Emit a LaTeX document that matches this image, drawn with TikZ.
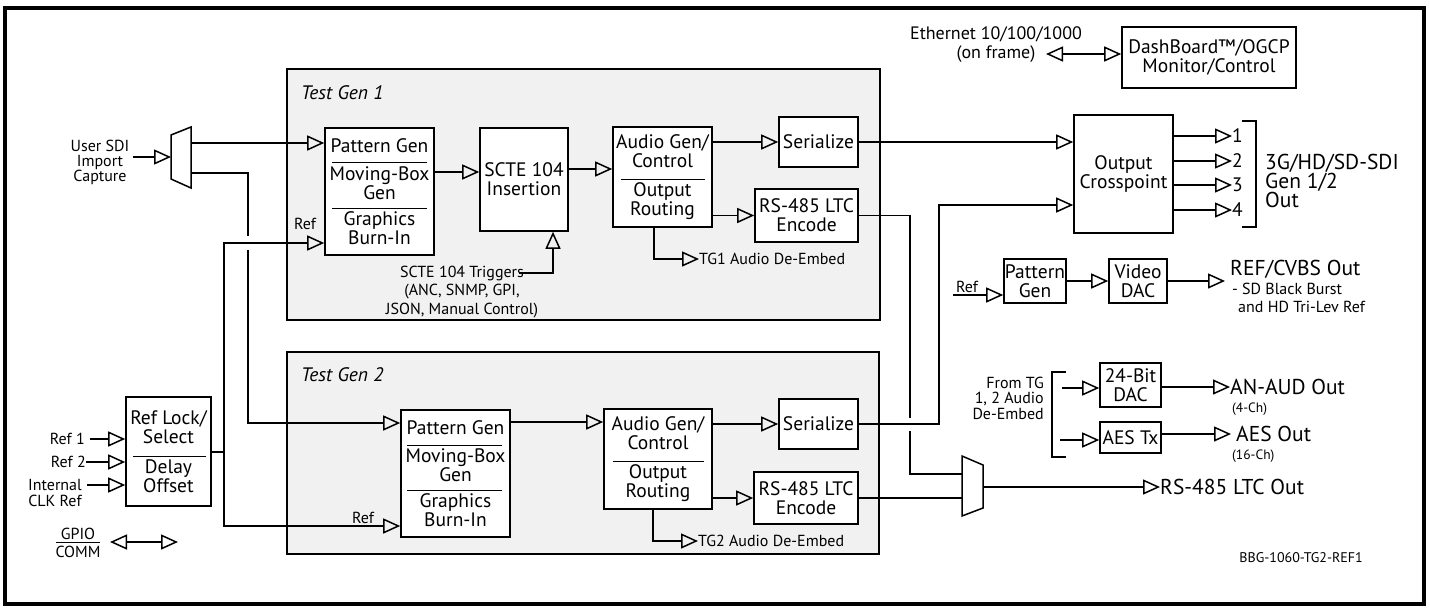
\documentclass[tikz,border=0pt]{standalone}
\usepackage{fontspec}
\setmainfont{PT Sans}
\usetikzlibrary{arrows.meta}
\definecolor{tggray}{RGB}{241,241,241}
\newcommand\fnm{\fontsize{19.5}{19}\selectfont}
\newcommand\fsm{\fontsize{16}{15.5}\selectfont}
\newcommand\fbg{\fontsize{21.5}{18}\selectfont}
\newcommand\ftn{\fontsize{13.5}{13}\selectfont}
\tikzset{
  blk/.style={draw, line width=1.6pt, fill=white, align=center, inner sep=0pt, font=\fnm},
  lbl/.style={align=center, inner sep=0pt, font=\fsm},
  wire/.style={line width=1.5pt},
  oarrow/.style={wire, -{Triangle[open, length=17pt, width=15pt]}},
  darrow/.style={wire, {Triangle[open, length=17pt, width=15pt]}-{Triangle[open, length=17pt, width=15pt]}},
}
\begin{document}
\begin{tikzpicture}[x=1pt, y=-1pt]
	\useasboundingbox (0,0) rectangle (1430,608);
	\draw [line width=3.5pt] (5,8) rectangle (1424,604);
	% test generator panels
	\draw [line width=1.6pt, fill=tggray] (287,69) rectangle (880,320);
	\draw [line width=1.6pt, fill=tggray] (287,352) rectangle (879,554);
	\node [anchor=west, inner sep=0pt, font=\fnm\itshape] at (301,93) {Test Gen 1};
	\node [anchor=west, inner sep=0pt, font=\fnm\itshape] at (301,375) {Test Gen 2};
	% blocks
	\node [blk, minimum width=109pt, minimum height=127pt] (pg1) at (379.5,191.5) {Pattern Gen\\[9pt]Moving-Box\\Gen\\[7pt]Graphics\\Burn-In};
	\node [blk, minimum width=88pt, minimum height=103pt] (scte) at (524,179.5) {SCTE 104\\Insertion};
	\node [blk, minimum width=99pt, minimum height=100pt] (aud1) at (662.5,177) {Audio Gen/\\Control\\[10pt]Output\\Routing};
	\node [blk, minimum width=79pt, minimum height=50pt] (ser1) at (818.5,142) {Serialize};
	\node [blk, minimum width=103pt, minimum height=53pt] (ltc1) at (806.5,215.5) {RS-485 LTC\\Encode};
	\node [blk, minimum width=109pt, minimum height=127pt] (pg2) at (455.5,473.5) {Pattern Gen\\[9pt]Moving-Box\\Gen\\[7pt]Graphics\\Burn-In};
	\node [blk, minimum width=108pt, minimum height=100pt] (aud2) at (658,459) {Audio Gen/\\Control\\[10pt]Output\\Routing};
	\node [blk, minimum width=79pt, minimum height=50pt] (ser2) at (818.5,424) {Serialize};
	\node [blk, minimum width=104pt, minimum height=52pt] (ltc2) at (806,498) {RS-485 LTC\\Encode};
	\node [blk, minimum width=85pt, minimum height=109pt] (refl) at (168.5,451.5) {Ref Lock/\\Select\\[11pt]Delay\\Offset};
	\node [blk, minimum width=99pt, minimum height=118pt] (xpt) at (1123.5,174) {Output\\Crosspoint};
	\node [blk, minimum width=174pt, minimum height=61pt] (dash) at (1209,57.5) {DashBoard™/OGCP\\Monitor/Control};
	\node [blk, minimum width=62pt, minimum height=44pt] (rpg) at (1035,281) {Pattern\\Gen};
	\node [blk, minimum width=58pt, minimum height=44pt] (vdac) at (1138,281) {Video\\DAC};
	\node [blk, minimum width=61pt, minimum height=44pt] (dac24) at (1130.5,385) {24-Bit\\DAC};
	\node [blk, minimum width=61pt, minimum height=31pt] (aes) at (1130.5,437.5) {AES Tx};
	% dividers
	\draw [line width=1pt] (332,162) -- (427,162);
	\draw [line width=1pt] (332,208) -- (427,208);
	\draw [line width=1pt] (407,445) -- (502,445);
	\draw [line width=1pt] (407,490) -- (502,490);
	\draw [line width=1pt] (621,179) -- (705,179);
	\draw [line width=1pt] (613,461) -- (704,461);
	\draw [line width=1pt] (133,456) -- (206,456);
	% muxes
	\draw [wire, fill=white] (171,135) -- (191,127) -- (191,188) -- (171,179) -- cycle;
	\draw [wire, fill=white] (962,456) -- (983,465) -- (983,508) -- (962,516) -- cycle;
	\coordinate (m1in) at (171,157);
	\coordinate (m1a) at (191,143);
	\coordinate (m1b) at (191,173);
	\coordinate (m2a) at (962,474);
	\coordinate (m2b) at (962,498);
	\coordinate (m2out) at (983,487);
	% left side inputs
	\node [lbl, font=\fontsize{16}{15}\selectfont] (sdi) at (100,162) {User SDI\\Import\\Capture};
	\draw [oarrow] ([xshift=3pt]sdi.east |- m1in) -- (m1in);
	\node [lbl, anchor=east] (ref1) at (85,439) {Ref 1};
	\node [lbl, anchor=east] (ref2) at (86,462) {Ref 2};
	\node [lbl] (clk) at (55,493) {Internal\\CLK Ref};
	\coordinate (clkarr) at (87,485);
	\draw [oarrow] ([xshift=5pt]ref1.east) -- (refl.west |- ref1);
	\draw [oarrow] (ref2.east) -- (refl.west |- ref2);
	\draw [oarrow] (clkarr) -- (refl.west |- clkarr);
	\node [lbl] (gpio) at (78,543) {GPIO\\[2pt]COMM};
	\draw [line width=0.9pt] (56,542) -- (100,542);
	\coordinate (gpioend) at (178,542);
	\draw [darrow] (110,542) -- (gpioend);
	% video paths
	\draw [oarrow] (m1a) -- (pg1.west |- m1a);
	\coordinate (hop1a) at (248,236);
	\coordinate (hop1b) at (248,250);
	\draw [wire] (m1b) -| (hop1a);
	\draw [oarrow] (hop1b) |- (pg2.west |- 0,423);
	\coordinate (rj) at (224,452);
	\draw [wire] (refl.east |- rj) -- (rj);
	\draw [oarrow] (rj) |- (pg1.west |- 0,243);
	\draw [oarrow] (rj) |- (pg2.west |- 0,526);
	\node [lbl] at (305,224) {Ref};
	\node [lbl] at (363,518) {Ref};
	\draw [oarrow] (pg1.east |- 0,172) -- (scte.west |- 0,172);
	\draw [oarrow] (scte.east |- 0,169) -- (aud1.west |- 0,169);
	\draw [oarrow] (aud1.east |- ser1) -- (ser1);
	\draw [oarrow] (aud1.east |- ltc1) -- (ltc1);
	\draw [oarrow] (pg2.east |- 0,422) -- (aud2.west |- 0,422);
	\draw [oarrow] (aud2.east |- ser2) -- (ser2);
	\draw [oarrow] (aud2.east |- ltc2) -- (ltc2);
	% triggers and de-embed
	\node [lbl, font=\fontsize{16}{18.5}\selectfont] (trig) at (462,292) {SCTE 104 Triggers\\(ANC, SNMP, GPI,\\JSON, Manual Control)};
	\coordinate (trigend) at (519,273);
	\draw [oarrow] (trigend) -| (scte.south -| 553,0);
	\node [lbl, anchor=west] (de1) at (699,259) {TG1 Audio De-Embed};
	\node [lbl, anchor=west] (de2) at (698,541) {TG2 Audio De-Embed};
	\draw [oarrow] (aud1.south -| 654,0) |- (de1.west);
	\draw [oarrow] (aud2.south -| 653,0) |- (de2.west);
	% outputs of the generators
	\draw [oarrow] (ser1) -- (xpt.west |- ser1);
	\coordinate (hop2a) at (910,418);
	\coordinate (hop2b) at (910,431);
	\draw [wire] (ltc1) -| (hop2a);
	\draw [wire] (hop2b) |- (m2a);
	\draw [oarrow] (ser2) -| (939,205) -- (xpt.west |- 0,205);
	\draw [wire] (ltc2) -- (m2b);
	\node [anchor=west, inner sep=0pt, font=\fbg] (ltcout) at (1160,487) {RS-485 LTC Out};
	\draw [oarrow] (m2out) -- (ltcout.west);
	% crosspoint outputs
	\foreach \y/\n in {136/1,161/2,185/3,210/4} {
		\node [anchor=west, inner sep=0pt, font=\fnm] (o\n) at (1232,\y) {\n};
		\draw [oarrow] (xpt.east |- o\n) -- (o\n.west);
	}
	\draw [wire] (1242,121) -- (1256,121) -- (1256,227) -- (1242,227);
	\node [anchor=west, align=left, inner sep=0pt, font=\fbg] (sdiout) at (1265,181) {3G/HD/SD-SDI\\Gen 1/2\\Out};
	% control
	\node [lbl, font=\fontsize{18}{19}\selectfont] (eth) at (996,45) {Ethernet 10/100/1000\\(on frame)};
	\coordinate (ethtip) at (1046,54);
	\draw [darrow] (ethtip) -- (dash.west |- ethtip);
	% reference output
	\coordinate (refsrc) at (953,295);
	\draw [oarrow] (refsrc) -- (rpg.west |- refsrc);
	\node [lbl] at (967,287) {Ref};
	\draw [oarrow] (rpg) -- (vdac);
	\node [anchor=west, inner sep=0pt, font=\fbg] (cvbs) at (1230,269) {REF/CVBS Out};
	\node [anchor=west, inner sep=0pt, font=\fsm] at (1232,289) {- SD Black Burst};
	\node [anchor=west, inner sep=0pt, font=\fsm] at (1238,307) {and HD Tri-Lev Ref};
	\coordinate (cvbstip) at (1225,281);
	\draw [oarrow] (vdac) -- (cvbstip);
	% audio outputs
	\node [lbl, align=right, anchor=east] (fromtg) at (1044,398) {From TG\\1, 2 Audio\\De-Embed};
	\draw [wire] (1066,372) -- (1052,372) -- (1052,457) -- (1066,457);
	\coordinate (dacsrc) at (1062,388);
	\coordinate (aessrc) at (1060,440);
	\draw [oarrow] (dacsrc) -- (dac24.west |- dacsrc);
	\draw [oarrow] (aessrc) -- (aes.west |- aessrc);
	\node [anchor=west, inner sep=0pt, font=\fbg] (anout) at (1230,387) {AN-AUD Out};
	\node [anchor=west, inner sep=0pt, font=\ftn] at (1232,409) {(4-Ch)};
	\draw [oarrow] (dac24.east |- anout) -- (anout.west);
	\node [anchor=west, inner sep=0pt, font=\fbg] (aesout) at (1236,434) {AES Out};
	\node [anchor=west, inner sep=0pt, font=\ftn] at (1232,456) {(16-Ch)};
	\draw [oarrow] (aes.east |- aesout) -- ([xshift=-5pt]aesout.west);
	\node [anchor=east, inner sep=0pt, font=\fontsize{14}{16}\selectfont] at (1363,558) {BBG-1060-TG2-REF1};
\end{tikzpicture}
\end{document}
